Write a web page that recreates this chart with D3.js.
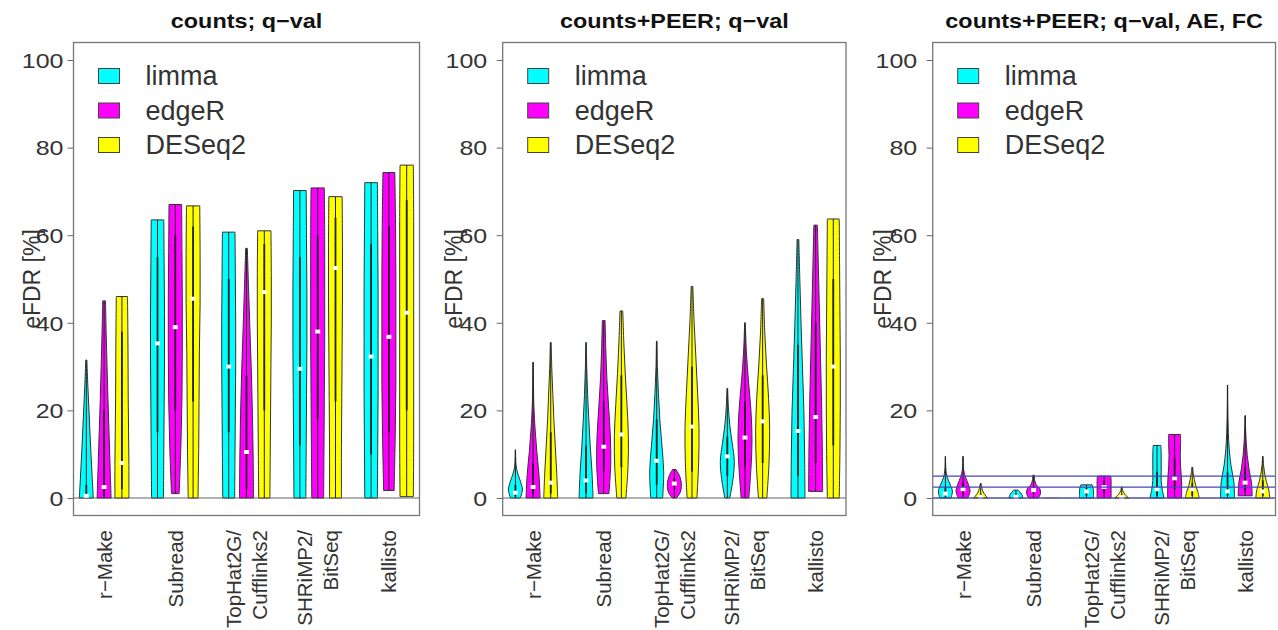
<!DOCTYPE html>
<html>
<head>
<meta charset="utf-8">
<script src="https://cdn.jsdelivr.net/npm/d3@7"></script>
<style>
  body { margin: 0; background: #fff; }
  svg { display: block; }
  text { font-family: "Liberation Sans", Arial, sans-serif; fill: #333; }
</style>
</head>
<body>
<svg width="1278" height="630"></svg>
<script>
const groups = [["r\u2212Make"], ["Subread"], ["TopHat2G/", "Cufflinks2"], ["SHRiMP2/", "BitSeq"], ["kallisto"]];
const methods = ["limma", "edgeR", "DESeq2"];
const methodColors = ["#00ffff", "#ff00ff", "#ffff00"];
const titles = ["counts; q\u2212val", "counts+PEER; q\u2212val", "counts+PEER; q\u2212val, AE, FC"];
const yTicks = [0, 20, 40, 60, 80, 100];
const refLines = [[], [], [0, 2.5, 5]];

// [min, q1, median, q3, max], one row per group, one entry per method
const statsQval = [
  [[0, 0, 0.5, 3, 31.5], [0, 0.5, 2.5, 20, 45], [0, 2, 8, 38, 46]],
  [[0, 15, 35.3, 55, 63.5], [1, 20, 39, 60, 67], [0, 22, 45.5, 62, 66.7]],
  [[0, 15, 30, 50, 60.7], [0, 2, 10.5, 28, 57], [0, 20, 47, 58, 61]],
  [[0, 12, 29.5, 55, 70.2], [0, 18, 38, 60, 70.8], [0, 22, 52.5, 64, 68.8]],
  [[0, 10, 32.3, 58, 72], [1.7, 15, 36.8, 62, 74.3], [0.3, 20, 42.3, 68, 76]]
];
const statsPeer = [
  [[0, 0.3, 1.2, 3, 11], [0, 0.8, 2.5, 8, 31], [0, 1, 3.5, 15, 35.5]],
  [[0, 1, 4, 12, 35.5], [1, 6, 11.7, 22, 40.5], [0, 7, 14.5, 28, 42.7]],
  [[0, 3, 8.5, 18, 35.8], [0, 2, 3.3, 4.5, 6.5], [0, 6, 16.3, 30, 48.3]],
  [[0, 5, 9.5, 14, 25], [0, 7, 13.8, 22, 40], [0, 8, 17.5, 28, 45.5]],
  [[0, 5, 15.3, 35, 59], [1.5, 8, 18.5, 40, 62.3], [0, 12, 30, 50, 63.7]]
];
const statsPeerFc = [
  [[0, 0.3, 1, 2.5, 9.5], [0, 0.8, 2, 3.5, 9.5], [0, 0, 0.3, 1, 3.3]],
  [[0, 0, 0.3, 1, 1.8], [0, 1, 1.8, 2.5, 5.2], [0, 0, 0, 0, 0]],
  [[0, 0.5, 1.5, 2.5, 3], [0, 1, 2.5, 4, 5], [0, 0, 0.2, 0.8, 2.5]],
  [[0, 0.5, 2, 6, 12], [0, 2, 4.5, 9, 14.5], [0, 0.5, 2, 3.5, 7]],
  [[0, 0.5, 1.5, 6, 25.8], [0.5, 1.5, 3.5, 7, 18.8], [0, 0.5, 1.5, 4, 9.5]]
];

// relative violin widths, evenly spaced from min to max
const shapeQval = [
  [[1, .82, .65, .5, .35, .2, .08], [1, .85, .7, .55, .42, .3, .2], [1, 1, .95, .9, .88, .85, .8]],
  [[.85, .9, .95, 1, 1, .95, .9], [.55, .8, .95, 1, 1, .95, .9], [.7, .8, .85, .9, 1, 1, .95]],
  [[.85, .9, .95, 1, 1, .95, .9], [1, .95, .85, .7, .5, .3, .12], [.8, .85, .9, .95, 1, 1, .95]],
  [[.85, .9, .95, 1, 1, .95, .9], [.85, .9, .95, 1, 1, 1, .95], [.85, .85, .9, .95, 1, 1, .95]],
  [[.9, .95, 1, 1, 1, .95, .9], [.75, .9, 1, 1, 1, .95, .85], [.95, 1, 1, 1, 1, 1, .95]]
];
const shapePeer = [
  [[.7, 1, .75, .35, .1, .04, .02], [1, .85, .55, .3, .12, .05, .02], [1, .85, .65, .45, .3, .15, .06]],
  [[1, .85, .6, .4, .22, .1, .04], [.75, 1, .95, .7, .45, .3, .2], [.65, .95, 1, .8, .55, .35, .2]],
  [[.85, 1, .75, .45, .25, .1, .04], [.3, .85, 1, .95, .7, .25], [.7, .95, 1, .8, .55, .3, .12]],
  [[.35, .8, 1, .7, .35, .15, .05], [.55, .85, 1, .85, .5, .2, .05], [.6, .9, 1, .85, .55, .3, .15]],
  [[1, .95, .85, .65, .45, .28, .12], [1, .95, .85, .7, .55, .4, .25], [.85, .95, 1, 1, .95, .9, .85]]
];
const shapePeerFc = [
  [[.8, 1, .65, .25, .08, .03, .02], [.7, 1, .75, .35, .1, .04, .02], [1, .45, .18, .06]],
  [[1, .9, .65, .3], [.7, 1, .9, .35, .15, .12], [1]],
  [[1, 1, 1, .95, .8], [1, 1, 1, 1, 1, .95], [1, .45, .15, .05]],
  [[1, .75, .6, .6, .6, .6, .55], [1, 1, .95, .85, .8, .85, .85], [1, .8, .5, .3, .15, .06]],
  [[1, .9, .5, .25, .12, .06, .03, .02], [1, .9, .55, .3, .15, .06, .03], [1, .85, .5, .25, .1, .04]]
];

const panelStats = [statsQval, statsPeer, statsPeerFc];
const panelShapes = [shapeQval, shapePeer, shapePeerFc];

const boxLeft = [73.5, 502.7, 932.7];
const boxRight = [419.5, 846, 1275.5];
const labelGap = [10, 15.5, 15.5];
const yLabelX = [39.5, 462, 891];

const svg = d3.select("svg");

const y = d3.scaleLinear().domain([-4, 104]).range([515.5, 42.5]);

function violin(g, cx, st, shape, color, hw) {
  const [mn, q1, md, q3, mx] = st;
  if (mx - mn < 0.01) {
    g.append("line")
      .attr("x1", cx - hw).attr("x2", cx + hw)
      .attr("y1", y(mn)).attr("y2", y(mn))
      .attr("stroke", "#888").attr("stroke-width", 1);
    return;
  }
  const pts = shape.map((w, i) => ({ v: mn + (mx - mn) * i / (shape.length - 1), w: w }));
  const area = d3.area()
    .y(d => y(d.v))
    .x0(d => cx - hw * d.w)
    .x1(d => cx + hw * d.w)
    .curve(d3.curveCatmullRom.alpha(0.5));
  g.append("path")
    .attr("d", area(pts))
    .attr("fill", color)
    .attr("stroke", "#333")
    .attr("stroke-width", 1);
  g.append("line")
    .attr("x1", cx).attr("x2", cx)
    .attr("y1", y(mn)).attr("y2", y(mx))
    .attr("stroke", "#222").attr("stroke-width", 1);
  g.append("rect")
    .attr("x", cx - 0.9).attr("width", 1.8)
    .attr("y", y(q3)).attr("height", Math.max(0.5, y(q1) - y(q3)))
    .attr("fill", "#222");
  g.append("rect")
    .attr("x", cx - 2.5).attr("width", 5)
    .attr("y", y(md) - 2).attr("height", 4)
    .attr("fill", "#fff");
}

titles.forEach((title, p) => {
  const g = svg.append("g");
  const x = d3.scaleLinear().domain([0.28, 19.72]).range([boxLeft[p], boxRight[p]]);
  const hw = 7;

  // zero line
  g.append("line")
    .attr("x1", boxLeft[p]).attr("x2", boxRight[p])
    .attr("y1", y(0)).attr("y2", y(0))
    .attr("stroke", "#999").attr("stroke-width", 1.5);

  // violins
  groups.forEach((grp, gi) => {
    methods.forEach((m, mi) => {
      const pos = gi * 4 + mi + 1;
      violin(g, x(pos), panelStats[p][gi][mi], panelShapes[p][gi][mi], methodColors[mi], hw);
    });
  });

  // reference lines
  refLines[p].forEach(h => {
    g.append("line")
      .attr("x1", boxLeft[p]).attr("x2", boxRight[p])
      .attr("y1", y(h)).attr("y2", y(h))
      .attr("stroke", "#4646b8").attr("stroke-width", 1.2);
  });

  // box
  g.append("rect")
    .attr("x", boxLeft[p]).attr("y", y(104))
    .attr("width", boxRight[p] - boxLeft[p]).attr("height", y(-4) - y(104))
    .attr("fill", "none").attr("stroke", "#777").attr("stroke-width", 1.3);

  // y axis
  const ax = g.append("g")
    .attr("transform", `translate(${boxLeft[p]},0)`)
    .call(d3.axisLeft(y).tickValues(yTicks).tickSize(6).tickPadding(0));
  ax.select(".domain").remove();
  ax.selectAll(".tick line").attr("stroke", "#666");
  ax.selectAll(".tick text")
    .attr("x", null).attr("dy", null)
    .attr("dominant-baseline", "central")
    .attr("transform", `translate(${-labelGap[p]},0) scale(1.19,1)`)
    .style("font-size", "21px").style("fill", "#333")
    .style("font-family", '"Liberation Sans", Arial, sans-serif');

  // y label
  g.append("text")
    .attr("transform", `translate(${yLabelX[p]},279) rotate(-90)`)
    .attr("text-anchor", "middle")
    .style("font-size", "23px")
    .text("eFDR [%]");

  // x labels
  groups.forEach((grp, gi) => {
    const xc = x(gi * 4 + 2);
    grp.forEach((line, li) => {
      const off = grp.length === 1 ? 0 : (li === 0 ? -13 : 13);
      g.append("text")
        .attr("transform", `translate(${xc + off},530) rotate(-90)`)
        .attr("text-anchor", "end")
        .attr("dominant-baseline", "central")
        .style("font-size", "20.5px")
        .text(line);
    });
  });

  // title
  g.append("text")
    .attr("transform", `translate(${(boxLeft[p] + boxRight[p]) / 2},28) scale(1.17,1)`)
    .attr("text-anchor", "middle")
    .style("font-size", "20px").style("font-weight", "bold").style("fill", "#111")
    .text(title);

  // legend
  methods.forEach((m, mi) => {
    const cy = 76 + mi * 34.5;
    g.append("rect")
      .attr("x", boxLeft[p] + 25).attr("y", cy - 7.5)
      .attr("width", 21).attr("height", 15)
      .attr("fill", methodColors[mi]).attr("stroke", "#444").attr("stroke-width", 1);
    g.append("text")
      .attr("x", boxLeft[p] + 72).attr("y", cy)
      .attr("dominant-baseline", "central")
      .style("font-size", "27px")
      .text(m);
  });
});
</script>
</body>
</html>
